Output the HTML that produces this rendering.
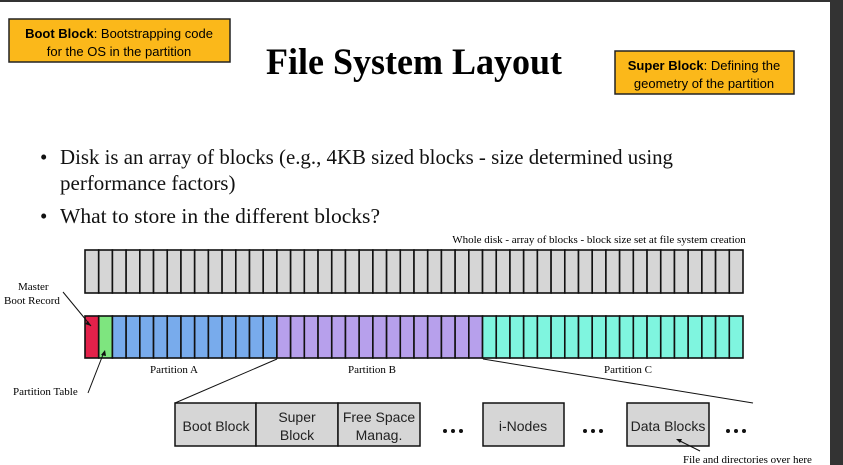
<!DOCTYPE html>
<html><head><meta charset="utf-8"><style>
html,body{margin:0;padding:0;background:#fff;width:843px;height:465px;overflow:hidden}
svg{display:block}
.s{font-family:"Liberation Serif",serif}
.a{font-family:"Liberation Sans",sans-serif}
</style></head><body>
<svg width="843" height="465" xmlns="http://www.w3.org/2000/svg">
<rect x="0" y="0" width="843" height="2" fill="#333"/>
<rect x="830" y="0" width="13" height="465" fill="#333"/>
<rect x="9" y="19" width="221" height="43" fill="#fbb81a" stroke="#222" stroke-width="1.5"/>
<text class="a" x="119" y="38" font-size="13" text-anchor="middle"><tspan font-weight="bold">Boot Block</tspan>: Bootstrapping code</text>
<text class="a" x="119" y="56" font-size="13" text-anchor="middle">for the OS in the partition</text>
<rect x="615" y="51" width="179" height="43" fill="#fbb81a" stroke="#222" stroke-width="1.5"/>
<text class="a" x="704" y="70" font-size="13" text-anchor="middle"><tspan font-weight="bold">Super Block</tspan>: Defining the</text>
<text class="a" x="704" y="88" font-size="13" text-anchor="middle">geometry of the partition</text>
<text class="s" x="266" y="74" font-size="37" font-weight="bold" textLength="296" lengthAdjust="spacingAndGlyphs">File System Layout</text>
<g class="s" font-size="21" fill="#111">
<text x="40" y="164">•</text><text x="60" y="164" textLength="613" lengthAdjust="spacingAndGlyphs">Disk is an array of blocks (e.g., 4KB sized blocks - size determined using</text>
<text x="60" y="190">performance factors)</text>
<text x="40" y="223">•</text><text x="60" y="223" textLength="320" lengthAdjust="spacingAndGlyphs">What to store in the different blocks?</text>
</g>
<text class="s" x="599" y="243" font-size="11" text-anchor="middle">Whole disk - array of blocks - block size set at file system creation</text>
<g id="blocks" stroke="#111" stroke-width="1.6"></g>
<text class="s" font-size="11"><tspan x="18" y="290">Master</tspan><tspan x="4" y="304">Boot Record</tspan></text>
<text class="s" x="13" y="395" font-size="11">Partition Table</text>
<text class="s" x="174" y="373" font-size="11" text-anchor="middle">Partition A</text>
<text class="s" x="372" y="373" font-size="11" text-anchor="middle">Partition B</text>
<text class="s" x="628" y="373" font-size="11" text-anchor="middle">Partition C</text>
<line x1="63" y1="292" x2="91" y2="326" stroke="#111" stroke-width="1"/>
<path d="M91 326 l-6 -2 l3 -3z" fill="#111"/>
<line x1="88" y1="393" x2="104" y2="352" stroke="#111" stroke-width="1"/>
<path d="M105 350 l-4 5 l5 1z" fill="#111"/>
<line x1="277" y1="359" x2="175" y2="403" stroke="#111" stroke-width="1"/>
<line x1="483" y1="359" x2="753" y2="403" stroke="#111" stroke-width="1"/>
<g stroke="#111" stroke-width="1.5" fill="#d6d6d6">
<rect x="175" y="403" width="81" height="43"/>
<rect x="256" y="403" width="82" height="43"/>
<rect x="338" y="403" width="82" height="43"/>
<rect x="483" y="403" width="81" height="43"/>
<rect x="627" y="403" width="82" height="43"/>
</g>
<g class="a" font-size="14" text-anchor="middle" fill="#222">
<text x="216" y="431">Boot Block</text>
<text x="297" y="422">Super</text><text x="297" y="440">Block</text>
<text x="379" y="422">Free Space</text><text x="379" y="440">Manag.</text>
<text x="523" y="431">i-Nodes</text>
<text x="668" y="431">Data Blocks</text>
</g>
<g fill="#111">
<circle cx="445" cy="431" r="2"/><circle cx="453" cy="431" r="2"/><circle cx="461" cy="431" r="2"/>
<circle cx="585" cy="431" r="2"/><circle cx="593" cy="431" r="2"/><circle cx="601" cy="431" r="2"/>
<circle cx="728" cy="431" r="2"/><circle cx="736" cy="431" r="2"/><circle cx="744" cy="431" r="2"/>
</g>
<line x1="678" y1="440" x2="700" y2="451" stroke="#111" stroke-width="1"/>
<path d="M676 439 l6 0 l-2 4z" fill="#111"/>
<text class="s" x="683" y="463" font-size="11">File and directories over here</text>
</svg>
<script>
var g=document.getElementById('blocks'),ns='http://www.w3.org/2000/svg',w=658/48;
for(var i=0;i<48;i++){
 var x=85+i*w;
 var r=document.createElementNS(ns,'rect');r.setAttribute('x',x);r.setAttribute('y',250);r.setAttribute('width',w);r.setAttribute('height',43);r.setAttribute('fill','#d6d6d6');g.appendChild(r);
 var c=i==0?'#e3214a':i==1?'#7ee57f':i<14?'#78abec':i<29?'#b7a0ec':'#7ff5df';
 var q=document.createElementNS(ns,'rect');q.setAttribute('x',x);q.setAttribute('y',316);q.setAttribute('width',w);q.setAttribute('height',42);q.setAttribute('fill',c);g.appendChild(q);
}
</script>
</body></html>
